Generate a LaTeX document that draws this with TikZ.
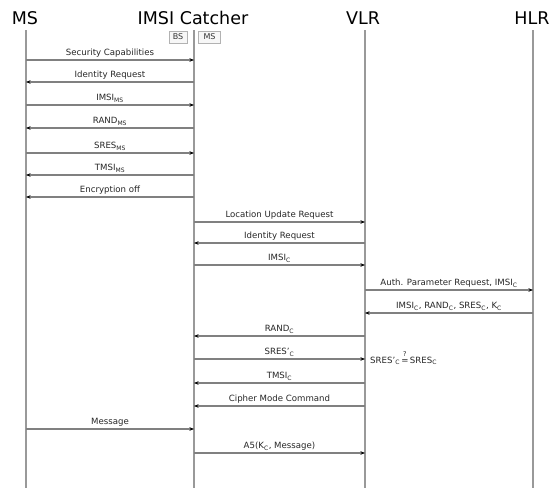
\documentclass[tikz,border=0pt]{standalone}
\usepackage{fontspec}
\setmainfont{DejaVu Sans}
\usetikzlibrary{arrows.meta}
\newcommand{\sbs}[1]{\textsubscript{#1}}
\begin{document}
\begin{tikzpicture}[x=1pt,y=-1pt,
  life/.style={draw=black!40, line width=1.8pt},
  msg/.style={draw=black!50, line width=1.1pt, -{Stealth[length=4.5pt,width=3.5pt,black]}},
  lbl/.style={font=\fontsize{8.6}{10}\selectfont, text=black!85, inner sep=0.5pt, above=1pt, text height=6.5pt, text depth=2pt},
  head/.style={font=\fontsize{17.5}{20}\selectfont, inner sep=0pt},
  tag/.style={draw=black!30, fill=black!3, text=black!80, font=\fontsize{8}{9}\selectfont, inner sep=1pt, minimum height=12pt, minimum width=18pt},
  cmpt/.style={font=\fontsize{8.6}{10}\selectfont, text=black!85, inner sep=0pt}]
\useasboundingbox (0,0) rectangle (550,488);

% headers
\node[head] (hMS)  at (25,18)  {MS};
\node[head] (hIC)  at (193,18) {IMSI Catcher};
\node[head] (hVLR) at (363,18) {VLR};
\node[head] (hHLR) at (532,18) {HLR};

% lifelines
\coordinate (MS)  at (26,30);  \coordinate (MSb)  at (26,488);
\coordinate (IC)  at (194,30); \coordinate (ICb)  at (194,488);
\coordinate (VLR) at (365,30); \coordinate (VLRb) at (365,488);
\coordinate (HLR) at (533,30); \coordinate (HLRb) at (533,488);
\draw[life] (MS) -- (MSb);
\draw[life] (IC) -- (ICb);
\draw[life] (VLR) -- (VLRb);
\draw[life] (HLR) -- (HLRb);

% BS / MS tags
\node[tag] (tBS) at (178,37) {BS};
\node[tag, minimum width=22pt] (tMS) at (209.5,37) {MS};

% messages
\newcommand{\msg}[4]{\draw[msg] (#1 |- 0,#3) -- node[lbl] {#4} (#2 |- 0,#3);}
\msg{MS}{IC}{60}{Security Capabilities}
\msg{IC}{MS}{82}{Identity Request}
\msg{MS}{IC}{105}{IMSI\sbs{MS}}
\msg{IC}{MS}{128}{RAND\sbs{MS}}
\msg{MS}{IC}{153}{SRES\sbs{MS}}
\msg{IC}{MS}{175}{TMSI\sbs{MS}}
\msg{IC}{MS}{197}{Encryption off}
\msg{IC}{VLR}{222}{Location Update Request}
\msg{VLR}{IC}{243}{Identity Request}
\msg{IC}{VLR}{265}{IMSI\sbs{C}}
\msg{VLR}{HLR}{290}{Auth. Parameter Request, IMSI\sbs{C}}
\msg{HLR}{VLR}{313}{IMSI\sbs{C}, RAND\sbs{C}, SRES\sbs{C}, K\sbs{C}}
\msg{VLR}{IC}{336}{RAND\sbs{C}}
\msg{IC}{VLR}{359}{SRES'\sbs{C}}
\msg{VLR}{IC}{383}{TMSI\sbs{C}}
\msg{VLR}{IC}{406}{Cipher Mode Command}
\msg{MS}{IC}{429}{Message}
\msg{IC}{VLR}{453}{A5(K\sbs{C}, Message)}

% comparison
\node[cmpt, anchor=base west] (cmpL) at (370,363) {SRES'\sbs{C}};
\node[cmpt, anchor=base west, text height=4.6pt, text depth=0pt] (cmpEq) at ([xshift=1pt]cmpL.base east) {=};
\node[cmpt, anchor=south, font=\fontsize{6.5}{7}\selectfont, text height=5pt, text depth=0pt] (cmpQ) at ([yshift=2pt]cmpEq.north) {?};
\node[cmpt, anchor=base west] (cmpR) at ([xshift=1pt]cmpEq.base east) {SRES\sbs{C}};
\end{tikzpicture}
\end{document}
